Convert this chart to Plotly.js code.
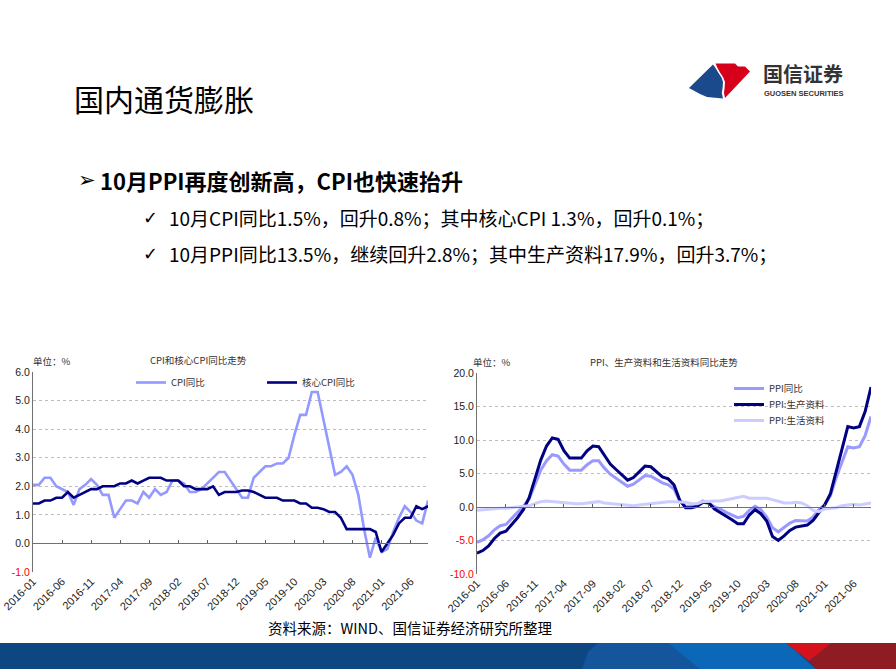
<!DOCTYPE html>
<html><head><meta charset="utf-8">
<script src="https://cdn.plot.ly/plotly-3.0.1.min.js"></script>
<style>html,body{margin:0;padding:0;background:#fff;}#chart{width:896px;height:669px;}</style>
</head><body><div id="chart"></div>
<script>
// Monthly categories as plotted (the source chart has no 2021-08 point)
const months = (function(){const a=[];for(let y=2016;y<=2021;y++){for(let m=1;m<=12;m++){if(y===2021&&(m===8||m>10))continue;a.push(y+'-'+String(m).padStart(2,'0'));}}return a;})();
const tickLabels = ['2016-01','2016-06','2016-11','2017-04','2017-09','2018-02','2018-07','2018-12','2019-05','2019-10','2020-03','2020-08','2021-01','2021-06'];

const cpi = [2.05,2.05,2.3,2.3,2.0,1.9,1.8,1.35,1.9,2.05,2.25,2.05,
  1.7,1.7,0.9,1.2,1.5,1.5,1.4,1.8,1.6,1.9,1.7,1.8,
  2.2,2.2,2.1,1.8,1.8,1.9,2.1,2.3,2.5,2.5,2.2,1.9,
  1.6,1.6,2.3,2.5,2.7,2.7,2.8,2.8,3.0,3.8,4.5,4.5,
  5.3,5.3,4.3,3.3,2.4,2.5,2.7,2.4,1.7,0.5,-0.5,0.2,
  -0.3,-0.2,0.4,0.9,1.3,1.1,0.8,0.7,1.5];
const coreCpi = [1.4,1.4,1.5,1.5,1.6,1.6,1.8,1.6,1.7,1.8,1.9,1.9,
  2.0,2.0,2.0,2.1,2.1,2.2,2.1,2.2,2.3,2.3,2.3,2.2,
  2.2,2.2,2.0,2.0,1.9,1.9,1.9,2.0,1.7,1.8,1.8,1.8,
  1.85,1.85,1.8,1.7,1.6,1.6,1.6,1.5,1.5,1.5,1.4,1.4,
  1.25,1.25,1.2,1.1,1.1,0.9,0.5,0.5,0.5,0.5,0.5,0.4,
  -0.3,0.0,0.3,0.7,0.9,0.9,1.3,1.2,1.3];
const ppi = [-5.3,-4.9,-4.3,-3.4,-2.8,-2.6,-1.7,-0.8,0.1,1.2,3.3,5.5,
  6.9,7.8,7.6,6.4,5.5,5.5,5.5,6.3,6.9,6.9,5.8,4.9,
  4.3,3.7,3.1,3.4,4.1,4.7,4.6,4.1,3.6,3.3,2.7,0.9,
  0.1,0.1,0.4,0.9,0.6,0.0,-0.3,-0.8,-1.2,-1.6,-1.4,-0.5,
  0.1,-0.4,-1.5,-3.1,-3.7,-3.0,-2.4,-2.0,-2.1,-2.1,-1.5,-0.4,
  0.3,1.7,4.4,6.8,9.0,8.8,9.0,10.7,13.5];
const ppiProducer = [-6.9,-6.5,-5.8,-4.7,-3.9,-3.6,-2.6,-1.6,-0.4,1.4,4.2,7.0,
  9.1,10.3,10.1,8.4,7.3,7.3,7.3,8.4,9.1,9.0,7.6,6.4,
  5.6,4.8,4.0,4.4,5.3,6.1,6.0,5.2,4.5,4.2,3.3,1.0,
  -0.1,-0.1,0.1,0.7,0.6,-0.3,-0.8,-1.3,-1.9,-2.5,-2.5,-1.2,
  -0.4,-1.0,-2.1,-4.4,-5.0,-4.3,-3.5,-3.0,-2.8,-2.7,-2.0,-0.8,
  0.3,2.0,5.3,8.8,12.0,11.8,12.0,14.3,17.9];
const ppiConsumer = [-0.5,-0.4,-0.3,-0.3,-0.2,-0.2,-0.1,-0.1,0.0,0.2,0.5,0.8,
  0.9,0.8,0.8,0.7,0.6,0.5,0.5,0.6,0.8,0.8,0.6,0.5,
  0.4,0.3,0.2,0.2,0.3,0.4,0.5,0.7,0.7,0.8,0.8,0.8,
  0.7,0.5,0.5,0.8,0.9,0.9,0.9,1.1,1.3,1.5,1.6,1.3,
  1.3,1.3,1.3,1.1,0.9,0.6,0.6,0.7,0.6,0.2,-0.5,-0.7,
  -0.3,-0.2,-0.1,0.2,0.3,0.4,0.3,0.4,0.6];

const leftTicks = [-1,0,1,2,3,4,5,6];
const rightTicks = [-10,-5,0,5,10,15,20];

const W=896,H=669;
const px=x=>x/W, py=y=>1-y/H;
const CJK='Noto Sans CJK SC, sans-serif';
const ARIAL='Liberation Sans, Arial, sans-serif';
const tickTxt=v=>v<0?'<span style="color:#ff0000">'+v.toFixed(1)+'</span>':v.toFixed(1);

const LD={x:[px(33),px(428)],y:[py(572),py(372)]};
const RD={x:[px(477),px(871)],y:[py(574),py(373)]};
const leftRange=[-1,6], rightRange=[-10,20];
const zeroPos=(d,r)=>d.y[0]+(0-r[0])/(r[1]-r[0])*(d.y[1]-d.y[0]);

const traces=[
 {x:months,y:cpi,name:'CPI同比',type:'scatter',mode:'lines',line:{color:'#9499ff',width:2.6},xaxis:'x',yaxis:'y',legend:'legend'},
 {x:months,y:coreCpi,name:'核心CPI同比',type:'scatter',mode:'lines',line:{color:'#000080',width:2.6},xaxis:'x',yaxis:'y',legend:'legend2'},
 {x:months,y:ppi,name:'PPI同比',type:'scatter',mode:'lines',line:{color:'#9999ff',width:3},xaxis:'x2',yaxis:'y2',legend:'legend3'},
 {x:months,y:ppiProducer,name:'PPI:生产资料',type:'scatter',mode:'lines',line:{color:'#000080',width:3},xaxis:'x2',yaxis:'y2',legend:'legend4'},
 {x:months,y:ppiConsumer,name:'PPI:生活资料',type:'scatter',mode:'lines',line:{color:'#ccccff',width:3},xaxis:'x2',yaxis:'y2',legend:'legend5'},
 {x:months,y:months.map(()=>null),xaxis:'x3',yaxis:'y',showlegend:false,hoverinfo:'skip',mode:'lines'},
 {x:months,y:months.map(()=>null),xaxis:'x4',yaxis:'y2',showlegend:false,hoverinfo:'skip',mode:'lines'}
];

const xBase={type:'category',range:[0,months.length-1],tickmode:'array',tickvals:tickLabels,ticktext:tickLabels,
  tickangle:-45,tickfont:{family:ARIAL,size:11,color:'#222'},showgrid:false,zeroline:false,showline:false,ticks:'',fixedrange:true};
const xZero={type:'category',range:[0,months.length-1],tickmode:'array',tickvals:tickLabels,showticklabels:false,
  ticks:'inside',ticklen:3,tickcolor:'#606060',showline:true,linecolor:'#707070',linewidth:1,showgrid:false,zeroline:false,anchor:'free'};
const yBase={tickmode:'array',tickfont:{family:ARIAL,size:10.5,color:'#222'},showgrid:true,gridcolor:'#bdbdbd',griddash:'dot',gridwidth:1,
  zeroline:false,showline:true,linecolor:'#707070',linewidth:1,ticks:''};

function poly(pts,color){return {type:'path',xref:'paper',yref:'paper',fillcolor:color,line:{width:0},layer:'above',
  path:'M'+pts.map(p=>px(p[0])+','+py(p[1])).join(' L')+' Z'};}

const shapes=[
 {type:'rect',xref:'paper',yref:'paper',x0:0,x1:1,y0:0,y1:py(643),fillcolor:'#0d4680',line:{width:0}},
 poly([[598,643],[790,643],[812,669],[582,669],[588,652]],'#14559c'),
 poly([[668,643],[786,643],[816,669],[700,669]],'#0b67b7'),
 poly([[786,643],[832,643],[809,661]],'#d5121c'),
 poly([[832,643],[896,643],[896,669],[816,669],[809,661]],'#8f1b23'),
 poly([[689,88],[713,64.5],[715.5,68],[718.5,73],[721.5,77.5],[723,82],[722.6,88],[721.8,93],[723,98.5],[707,97],[700,94]],'#1a4a8c'),
 poly([[715.5,63.5],[735,63.5],[738,66.5],[745,66.5],[750,71.5],[725,98],[724,93],[724.6,88],[725,82],[723,77],[720,72.5],[717.5,68]],'#d7001a')
];

const ann=(t,x,y,o)=>Object.assign({text:t,x:px(x),y:py(y),xref:'paper',yref:'paper',showarrow:false,xanchor:'left',yanchor:'middle',
  font:{family:CJK,size:10,color:'#333'}},o||{});
const annotations=[
 ann('国内通货膨胀',72,98,{font:{family:CJK,size:30,color:'#000'}}),
 ann('➢',76,180,{font:{family:'DejaVu Sans',size:21,color:'#000'}}),
 ann('<b>10月PPI再度创新高，CPI也快速抬升</b>',98,180,{font:{family:CJK,size:22,color:'#000'}}),
 ann('✓',141,218,{font:{family:'DejaVu Sans',size:18,color:'#000'}}),
 ann('10月CPI同比1.5%，回升0.8%；其中核心CPI 1.3%，回升0.1%；',167,218,{font:{family:CJK,size:19,color:'#000'}}),
 ann('✓',141,253,{font:{family:'DejaVu Sans',size:18,color:'#000'}}),
 ann('10月PPI同比13.5%，继续回升2.8%；其中生产资料17.9%，回升3.7%；',167,253,{font:{family:CJK,size:19,color:'#000'}}),
 ann('<b>国信证券</b>',761,73.5,{font:{family:CJK,size:20,color:'#333'}}),
 ann('<b>GUOSEN SECURITIES</b>',762,93.5,{font:{family:ARIAL,size:7.5,color:'#333'}}),
 ann('单位：%',31,361,{font:{family:CJK,size:9.5,color:'#333'}}),
 ann('CPI和核心CPI同比走势',148,360,{font:{family:CJK,size:9.5,color:'#333'}}),
 ann('单位：%',471,362,{font:{family:CJK,size:9.5,color:'#333'}}),
 ann('PPI、生产资料和生活资料同比走势',588,362,{font:{family:CJK,size:9.5,color:'#333'}}),
 ann('资料来源：WIND、国信证券经济研究所整理',410,627,{xanchor:'center',font:{family:CJK,size:14.5,color:'#000'}})
];

const lg=(x,y)=>({orientation:'v',x:px(x),y:py(y),xanchor:'left',yanchor:'top',bgcolor:'rgba(0,0,0,0)',
  font:{family:CJK,size:9.5,color:'#333'},itemwidth:30});

const layout={
 width:W,height:H,margin:{l:0,r:0,t:0,b:0},paper_bgcolor:'#fff',plot_bgcolor:'rgba(0,0,0,0)',
 showlegend:true,
 xaxis:Object.assign({},xBase,{domain:LD.x,anchor:'y'}),
 yaxis:Object.assign({},yBase,{domain:LD.y,anchor:'x',range:leftRange,tickvals:leftTicks,ticktext:leftTicks.map(tickTxt)}),
 xaxis2:Object.assign({},xBase,{domain:RD.x,anchor:'y2'}),
 yaxis2:Object.assign({},yBase,{domain:RD.y,anchor:'x2',range:rightRange,tickvals:rightTicks,ticktext:rightTicks.map(tickTxt)}),
 xaxis3:Object.assign({},xZero,{overlaying:'x',domain:LD.x,position:zeroPos(LD,leftRange)}),
 xaxis4:Object.assign({},xZero,{overlaying:'x2',domain:RD.x,position:zeroPos(RD,rightRange)}),
 legend:lg(131,368),
 legend2:lg(262,368),
 legend3:lg(729,374),
 legend4:lg(729,390),
 legend5:lg(729,406),
 shapes:shapes,annotations:annotations
};
Plotly.newPlot('chart',traces,layout,{staticPlot:true,displayModeBar:false});
</script></body></html>
